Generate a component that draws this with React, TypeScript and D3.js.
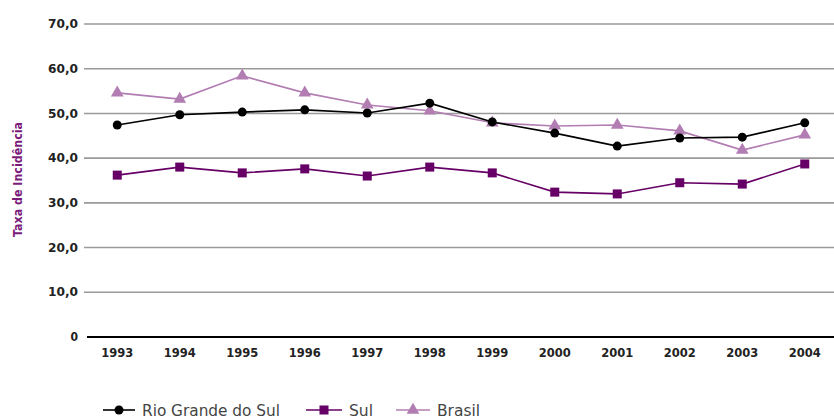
import React from "react";
import * as d3 from "d3";

const years = ["1993","1994","1995","1996","1997","1998","1999","2000","2001","2002","2003","2004"];
const yearLabels = ["1993","1994","1995","1996","1997","1998","1999","2000","2001","2002","2003","2004"];
const rioGrandeDoSul = [47.4, 49.7, 50.3, 50.8, 50.1, 52.3, 48.1, 45.6, 42.7, 44.5, 44.7, 47.9];
const sul = [36.2, 38.0, 36.7, 37.6, 36.0, 38.0, 36.7, 32.4, 32.0, 34.5, 34.2, 38.7];
const brasil = [54.6, 53.2, 58.4, 54.6, 51.9, 50.6, 47.9, 47.2, 47.4, 46.1, 41.8, 45.2];
const yTicks = [0, 10, 20, 30, 40, 50, 60, 70];
const yTickLabels = ["0", "10,0", "20,0", "30,0", "40,0", "50,0", "60,0", "70,0"];
const seriesNames = ["Rio Grande do Sul", "Sul", "Brasil"];
const seriesColors = ["#000000", "#660066", "#b27db2"];
const yTitle = "Taxa de Incidência";

const W = 834, H = 419;
const FONT = "'DejaVu Sans Condensed', 'Liberation Sans Narrow', sans-serif";

function Marker({ kind, x, y, color }: { kind: number; x: number; y: number; color: string }) {
  if (kind === 0) return <circle cx={x} cy={y} r={4.5} fill={color} />;
  if (kind === 1) return <rect x={x - 4.5} y={y - 4.5} width={9} height={9} fill={color} />;
  const s = d3.symbol(d3.symbolTriangle, 70)();
  return <path d={s || ""} transform={`translate(${x},${y})`} fill={color} />;
}

export default function App() {
  const x = d3.scaleBand().domain(years).range([86, 836]);
  const y = d3.scaleLinear().domain([0, 70]).range([337, 24]);
  const cx = (d: string) => (x(d) as number) + x.bandwidth() / 2;
  const line = d3.line<number>().x((_, i) => cx(years[i])).y((v) => y(v));
  const data = [rioGrandeDoSul, sul, brasil];
  const legendX = [103, 306, 396];
  const legendLen = [32, 36, 34];
  const legendTextW = [138, 24, 43];
  const legendY = 410;
  return (
    <svg width={W} height={H} style={{ position: "absolute", left: 0, top: 0, background: "#fff" }}>
      {yTicks.map((t, i) => (
        <g key={t}>
          {t > 0 && <line x1={84} x2={W} y1={y(t)} y2={y(t)} stroke="#9a9a9a" strokeWidth={1.6} />}
          <text x={78} y={y(t)} dy="0.35em" textAnchor="end" fontFamily={FONT} fontWeight="bold" fontSize={12} fill="#222"
            {...(t > 0 ? { textLength: 30, lengthAdjust: "spacingAndGlyphs" } : {})}>
            {yTickLabels[i]}
          </text>
        </g>
      ))}
      <line x1={87} x2={W} y1={y(0)} y2={y(0)} stroke="#000" strokeWidth={2} />
      {years.map((yr, i) => (
        <text key={yr} x={cx(yr) - 16} y={357} fontFamily={FONT} fontWeight="bold" fontSize={12} fill="#222"
          textLength={32} lengthAdjust="spacingAndGlyphs">
          {yearLabels[i]}
        </text>
      ))}
      <text transform={`translate(22,180) rotate(-90)`} x={-57} fontFamily={FONT} fontWeight="bold" fontSize={12} fill="#7a1a7a"
        textLength={115} lengthAdjust="spacingAndGlyphs">
        {yTitle}
      </text>
      {[2, 0, 1].map((si) => (
        <g key={si}>
          <path d={line(data[si]) || ""} fill="none" stroke={seriesColors[si]} strokeWidth={1.6} />
          {data[si].map((v, i) => (
            <Marker key={i} kind={si} x={cx(years[i])} y={y(v)} color={seriesColors[si]} />
          ))}
        </g>
      ))}
      {seriesNames.map((n, si) => (
        <g key={n}>
          <line x1={legendX[si]} x2={legendX[si] + legendLen[si]} y1={legendY} y2={legendY} stroke={seriesColors[si]} strokeWidth={1.6} />
          <Marker kind={si} x={legendX[si] + legendLen[si] / 2} y={legendY} color={seriesColors[si]} />
          <text x={legendX[si] + legendLen[si] + 7} y={legendY} dy="0.35em" fontFamily={FONT} fontSize={16} fill="#444"
            textLength={legendTextW[si]} lengthAdjust="spacingAndGlyphs">
            {n}
          </text>
        </g>
      ))}
    </svg>
  );
}
